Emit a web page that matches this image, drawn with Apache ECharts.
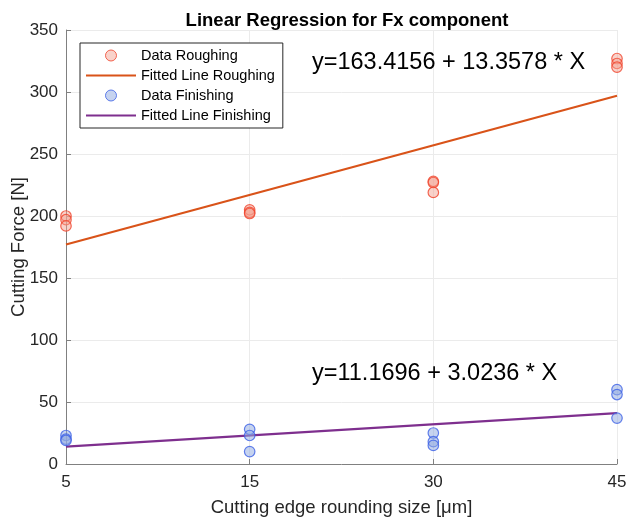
<!DOCTYPE html>
<html><head><meta charset="utf-8">
<script src="https://cdn.jsdelivr.net/npm/echarts@6/dist/echarts.min.js"></script>
<style>html,body{margin:0;padding:0;background:#fff}#c{width:627px;height:519px}</style>
</head><body><div id="c"></div>
<script>
const categories = ['5', '15', '30', '45'];
const roughingValues = [[200, 197, 192], [205, 203, 202], [228, 227, 219], [327, 323, 320]];
const finishingValues = [[23, 20, 19], [28, 23, 10], [25, 18, 15], [60, 56, 37]];
const fitRoughingEnds = [177, 297];
const fitFinishingEnds = [14, 41];
const yTicks = {min: 0, max: 350, interval: 50};
const eqRoughing = 'y=163.4156 + 13.3578 * X';
const eqFinishing = 'y=11.1696 + 3.0236 * X';
const font = 'Liberation Sans, Arial, sans-serif';

const toPoints = vals => vals.flatMap((arr, i) => arr.map(v => [i, v]));
const endsToLine = ends => [[0, ends[0]], [categories.length - 1, ends[1]]];

const chart = echarts.init(document.getElementById('c'));
chart.setOption({
  animation: false,
  title: {text: 'Linear Regression for Fx component', left: 342, top: 6, textAlign: 'center',
    textStyle: {fontFamily: font, fontSize: 18.5, fontWeight: 'bold', color: '#000'}},
  grid: {left: 66, right: 10, top: 30, bottom: 55, containLabel: false, outerBoundsMode: 'none'},
  xAxis: {type: 'category', data: categories, boundaryGap: false,
    name: 'Cutting edge rounding size [μm]', nameLocation: 'middle', nameGap: 34, nameMoveOverlap: false,
    nameTextStyle: {fontFamily: font, fontSize: 18.5, color: '#262626'},
    axisLine: {lineStyle: {color: '#808080'}},
    axisTick: {inside: true, length: 5, lineStyle: {color: '#808080'}},
    axisLabel: {fontFamily: font, fontSize: 17, color: '#262626', margin: 10},
    splitLine: {show: true, lineStyle: {color: '#ebebeb'}}},
  yAxis: {type: 'value', min: yTicks.min, max: yTicks.max, interval: yTicks.interval,
    name: 'Cutting Force [N]', nameLocation: 'middle', nameGap: 38, nameMoveOverlap: false,
    nameTextStyle: {fontFamily: font, fontSize: 18.5, color: '#262626'},
    axisLine: {show: true, lineStyle: {color: '#808080'}},
    axisTick: {show: true, inside: true, length: 5, lineStyle: {color: '#808080'}},
    axisLabel: {fontFamily: font, fontSize: 17, color: '#262626', margin: 8},
    splitLine: {show: true, lineStyle: {color: '#ebebeb'}}},
  legend: {orient: 'vertical', left: 80, top: 43, itemGap: 5, itemWidth: 50, itemHeight: 11,
    padding: [5, 8, 5, 5], borderColor: '#262626', borderWidth: 1, backgroundColor: '#fff',
    textStyle: {fontFamily: font, fontSize: 14.5, color: '#000'},
    data: [
      {name: 'Data Roughing', icon: 'circle', itemStyle: {borderWidth: 1}},
      {name: 'Fitted Line Roughing', itemStyle: {opacity: 0}},
      {name: 'Data Finishing', icon: 'circle', itemStyle: {borderWidth: 1}},
      {name: 'Fitted Line Finishing', itemStyle: {opacity: 0}}]},
  series: [
    {name: 'Fitted Line Roughing', type: 'line', data: endsToLine(fitRoughingEnds), showSymbol: false, symbol: 'none',
      lineStyle: {color: '#d95319', width: 2.2}, itemStyle: {color: '#d95319'}, z: 3},
    {name: 'Fitted Line Finishing', type: 'line', data: endsToLine(fitFinishingEnds), showSymbol: false, symbol: 'none',
      lineStyle: {color: '#7e2f8e', width: 2.2}, itemStyle: {color: '#7e2f8e'}, z: 3},
    {name: 'Data Roughing', type: 'scatter', data: toPoints(roughingValues), symbolSize: 10.5,
      itemStyle: {color: 'rgba(242,160,145,0.6)', borderColor: '#f0442c', borderWidth: 1.2}, z: 4},
    {name: 'Data Finishing', type: 'scatter', data: toPoints(finishingValues), symbolSize: 10.5,
      itemStyle: {color: 'rgba(145,170,225,0.65)', borderColor: '#3d62e6', borderWidth: 1.2}, z: 4}
  ],
  graphic: [
    {type: 'text', left: 312, top: 51, z: 100, style: {text: eqRoughing, font: '23.5px ' + font, fill: '#000'}},
    {type: 'text', left: 312, top: 362, z: 100, style: {text: eqFinishing, font: '23.5px ' + font, fill: '#000'}}
  ]
});
</script></body></html>
